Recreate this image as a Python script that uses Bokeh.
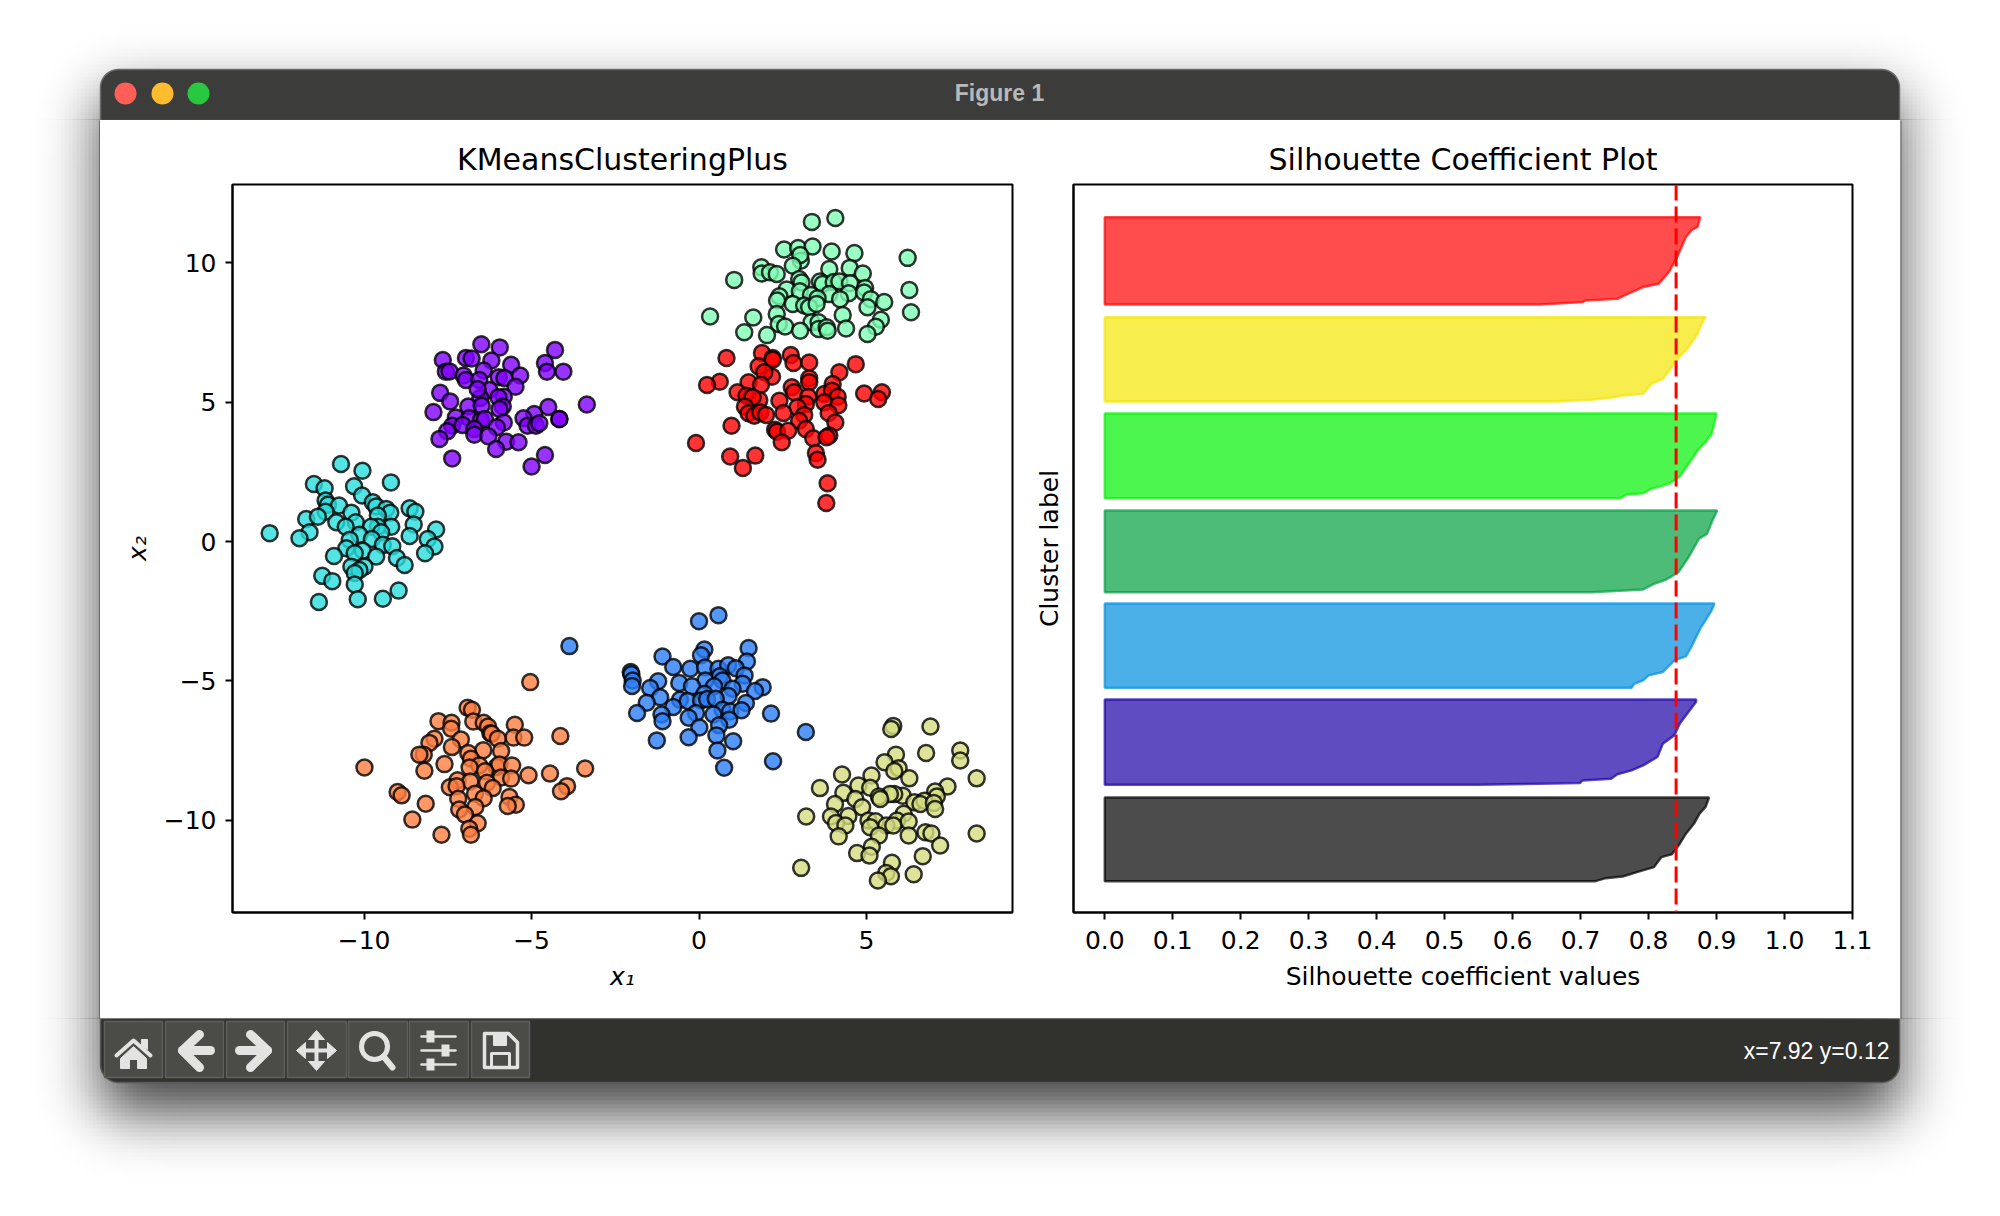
import math
import numpy as np
from bokeh.core.properties import value
from bokeh.embed import file_html
from bokeh.layouts import column, row
from bokeh.models import FixedTicker, PrintfTickFormatter, Range1d, Span
from bokeh.plotting import figure
from bokeh.resources import INLINE

# ---------- scatter data ----------
purple_x = [-6.50,-5.95,-4.30,-7.65,-6.96,-6.79,-6.20,-4.60,-4.54,-4.05,-5.61,-7.56,-7.45,-7.03,-6.96,-6.43,-6.56,-5.98,-5.81,-5.34,-5.48,-7.73,-7.43,-6.26,-6.53,-5.83,-5.99,-6.61,-5.86,-5.96,-7.93,-6.89,-6.49,-4.50,-3.35,-7.26,-6.86,-6.51,-6.39,-4.92,-5.24,-4.17,-4.17,-5.12,-4.87,-4.77,-7.37,-7.52,-7.06,-6.71,-5.83,-6.04,-6.71,-6.29,-7.75,-5.76,-5.39,-6.06,-7.37,-4.60,-5.00]
purple_y = [7.07,6.96,6.87,6.51,6.58,6.56,6.49,6.40,6.09,6.09,6.34,6.09,6.10,5.95,5.79,6.13,5.79,5.89,5.86,5.95,5.55,5.33,5.02,5.43,5.15,5.19,5.17,5.47,4.84,4.75,4.64,4.84,4.87,4.82,4.91,4.45,4.42,4.36,4.39,4.57,4.42,4.39,4.39,4.15,4.15,4.24,4.15,3.95,4.18,4.03,4.27,4.10,3.83,3.77,3.68,3.58,3.56,3.32,2.98,3.10,2.69]
blue_x = [-3.87,0.00,0.58,0.16,0.06,-1.09,1.48,1.43,-0.77,-0.26,0.18,0.58,0.87,1.10,-2.04,-2.02,-1.98,-2.00,1.36,0.62,-1.22,-0.59,0.19,0.70,1.30,-1.46,-0.21,0.45,1.90,1.67,1.00,-1.16,0.88,0.16,-1.56,-0.57,-0.34,0.06,0.24,0.50,-0.77,1.40,0.70,0.93,1.27,0.43,-0.09,-1.85,-1.12,-0.31,2.15,-1.09,0.90,0.60,0.01,0.52,-0.31,-1.26,1.02,3.19,0.55,2.21,0.75]
blue_y = [-3.75,-2.86,-2.64,-3.87,-4.08,-4.12,-3.82,-4.30,-4.50,-4.56,-4.52,-4.56,-4.44,-4.54,-4.68,-4.76,-4.98,-5.18,-4.80,-4.83,-5.01,-5.07,-4.98,-4.98,-5.10,-5.25,-5.19,-5.19,-5.22,-5.36,-5.28,-5.58,-5.54,-5.46,-5.78,-5.67,-5.72,-5.70,-5.65,-5.64,-5.93,-5.79,-6.03,-6.09,-6.05,-6.20,-6.15,-6.15,-6.20,-6.32,-6.17,-6.44,-6.39,-6.59,-6.67,-6.95,-7.02,-7.13,-7.16,-6.83,-7.49,-7.88,-8.11]
cyan_x = [-10.69,-10.05,-9.20,-11.50,-11.18,-10.30,-10.06,-11.15,-9.74,-11.08,-10.75,-9.64,-9.34,-8.64,-8.47,-11.15,-10.38,-9.22,-11.73,-11.38,-9.59,-10.83,-10.25,-8.52,-9.19,-9.59,-9.79,-10.55,-7.85,-12.82,-11.63,-10.14,-9.49,-8.64,-11.93,-8.10,-10.43,-9.77,-7.90,-9.44,-9.16,-10.53,-10.04,-10.28,-8.18,-10.90,-9.64,-9.02,-8.79,-10.38,-9.99,-10.14,-10.28,-11.25,-10.95,-10.28,-8.97,-9.44,-10.19,-11.35]
cyan_y = [2.78,2.54,2.12,2.06,1.91,1.98,1.65,1.47,1.41,1.32,1.29,1.26,1.17,1.19,1.07,1.07,1.03,1.03,0.81,0.89,0.93,0.69,0.69,0.61,0.53,0.53,0.53,0.53,0.43,0.30,0.33,0.24,0.33,0.20,0.12,0.09,0.06,0.09,-0.18,-0.12,-0.17,-0.24,-0.33,-0.42,-0.42,-0.52,-0.54,-0.59,-0.84,-0.90,-0.90,-1.02,-1.13,-1.23,-1.42,-1.54,-1.76,-2.05,-2.07,-2.17]
mint_x = [3.37,4.07,2.54,2.96,3.39,3.96,4.64,6.23,3.04,3.02,2.80,1.86,1.87,2.12,2.32,1.05,3.89,4.50,4.89,2.99,3.06,3.61,3.69,4.02,4.19,4.51,4.96,6.28,2.62,3.01,3.89,4.47,4.93,5.13,2.40,2.33,3.34,3.54,4.21,5.53,2.80,3.14,3.29,3.51,5.03,6.33,4.29,2.32,0.33,1.62,2.38,2.57,5.43,3.36,3.57,3.57,3.81,3.84,3.02,4.39,5.28,5.03,1.35,2.03]
mint_y = [11.46,11.60,10.47,10.52,10.58,10.40,10.34,10.17,10.07,10.27,9.89,9.83,9.61,9.65,9.59,9.38,9.77,9.81,9.61,9.41,9.29,9.32,9.23,9.30,9.32,9.26,9.09,9.02,9.04,8.97,8.87,8.90,8.93,8.69,8.79,8.64,8.84,8.72,8.69,8.59,8.52,8.46,8.40,8.52,8.40,8.22,8.12,8.16,8.07,8.03,7.80,7.71,7.95,7.86,7.86,7.62,7.68,7.56,7.56,7.64,7.70,7.44,7.50,7.40]
olive_x = [5.80,5.74,6.91,6.78,7.80,7.80,5.88,5.54,5.96,5.83,8.29,6.28,4.27,5.15,7.42,3.61,4.76,5.11,4.31,7.05,7.10,6.08,5.83,5.70,5.37,5.41,4.67,6.43,6.73,6.61,7.01,7.05,4.06,4.87,3.20,3.94,4.46,6.11,5.06,5.27,5.91,6.26,4.09,4.37,5.59,5.80,5.11,8.29,6.76,6.94,4.17,5.37,6.26,7.20,5.16,4.72,5.09,6.68,5.76,3.05,5.59,6.41,5.73,5.34]
olive_y = [-6.61,-6.72,-6.63,-7.58,-7.49,-7.85,-7.64,-7.91,-8.13,-8.23,-8.49,-8.49,-8.35,-8.39,-8.78,-8.84,-8.75,-8.83,-9.01,-8.96,-9.14,-9.11,-9.05,-9.05,-9.14,-9.23,-9.23,-9.35,-9.29,-9.41,-9.37,-9.59,-9.41,-9.53,-9.86,-9.86,-9.84,-9.76,-10.00,-10.03,-10.00,-10.04,-10.09,-10.18,-10.18,-10.18,-10.24,-10.47,-10.42,-10.47,-10.57,-10.54,-10.54,-10.90,-10.94,-11.17,-11.26,-11.28,-11.52,-11.70,-11.88,-11.93,-12.00,-12.15]
orange_x = [-5.04,-6.91,-6.78,-6.74,-7.78,-7.39,-7.40,-6.43,-6.30,-6.23,-6.19,-5.50,-4.14,-5.54,-5.22,-6.01,-7.90,-8.05,-7.11,-7.38,-6.44,-5.91,-6.89,-8.22,-8.35,-7.60,-9.99,-8.20,-6.81,-6.56,-6.85,-6.04,-5.96,-5.58,-6.39,-5.09,-4.45,-3.40,-5.91,-5.61,-7.21,-6.83,-6.33,-7.44,-7.24,-6.16,-3.94,-4.12,-9.00,-8.88,-6.69,-6.43,-7.19,-5.66,-8.16,-5.47,-5.71,-6.68,-7.16,-6.99,-8.56,-6.61,-6.86,-6.81,-7.69]
orange_y = [-5.04,-5.96,-6.03,-6.45,-6.44,-6.50,-6.71,-6.50,-6.63,-6.87,-6.89,-6.57,-6.97,-7.03,-7.03,-7.07,-7.07,-7.22,-7.10,-7.37,-7.48,-7.51,-7.58,-7.64,-7.64,-7.98,-8.10,-8.22,-7.79,-8.03,-8.10,-8.08,-7.99,-8.03,-8.24,-8.38,-8.32,-8.14,-8.46,-8.50,-8.56,-8.60,-8.65,-8.81,-8.77,-8.84,-8.77,-8.95,-8.98,-9.10,-9.04,-9.20,-9.22,-9.16,-9.40,-9.44,-9.48,-9.52,-9.61,-9.79,-9.97,-10.10,-10.30,-10.51,-10.51]
red_x = [0.82,1.88,2.20,2.20,1.78,2.74,2.82,3.29,4.68,4.19,2.18,1.95,0.62,0.24,1.48,1.85,3.29,3.29,3.99,1.15,2.77,2.84,3.74,3.97,4.93,5.46,5.35,4.14,1.42,1.80,1.60,2.40,3.26,3.19,3.74,4.16,1.37,2.94,1.48,1.65,1.83,2.00,2.52,3.14,3.87,2.99,0.97,4.07,2.27,2.33,2.66,3.19,2.47,3.41,3.89,3.81,-0.09,0.93,1.68,3.49,3.54,1.31,3.84,3.80]
red_y = [6.58,6.76,6.58,6.52,6.28,6.69,6.40,6.42,6.36,6.07,5.91,6.07,5.73,5.61,5.71,5.62,5.85,5.71,5.65,5.35,5.53,5.35,5.29,5.41,5.31,5.35,5.11,5.19,5.23,5.07,5.17,5.05,5.19,4.93,4.99,4.89,4.83,4.81,4.60,4.51,4.63,4.54,4.61,4.54,4.61,4.33,4.15,4.27,4.01,3.94,3.97,4.03,3.56,3.70,3.80,3.74,3.53,3.05,3.08,3.17,2.93,2.64,2.09,1.38]

cluster_colors = ["#8000ff", "#2c7ef7", "#2adddd", "#80ffb4", "#d4dd80", "#ff7e41", "#ff0000"]
x_ticks = [-10, -5, 0, 5]
y_ticks = [-10, -5, 0, 5, 10]
MINUS = "\u2212"

# ---------- silhouette data ----------
black_s = [0.0, 0.722, 0.737, 0.762, 0.783, 0.808, 0.819, 0.834, 0.846, 0.855, 0.867, 0.875, 0.884, 0.889]
black_f = [0.0, 0.0, 0.036, 0.056, 0.108, 0.168, 0.288, 0.32, 0.448, 0.568, 0.688, 0.808, 0.888, 1.0]
violet_s = [0.0, 0.547, 0.699, 0.703, 0.745, 0.754, 0.775, 0.792, 0.813, 0.821, 0.838, 0.846, 0.859, 0.87, 0.87]
violet_f = [0.0, 0.0, 0.02, 0.051, 0.071, 0.122, 0.169, 0.227, 0.325, 0.482, 0.58, 0.718, 0.855, 0.973, 1.0]
sky_s = [0.0, 0.775, 0.779, 0.792, 0.80, 0.821, 0.838, 0.855, 0.863, 0.876, 0.884, 0.893, 0.897]
sky_f = [0.0, 0.0, 0.048, 0.087, 0.147, 0.187, 0.325, 0.373, 0.484, 0.702, 0.802, 0.921, 1.0]
sea_s = [0.0, 0.716, 0.792, 0.808, 0.825, 0.844, 0.859, 0.874, 0.886, 0.894, 0.901]
sea_f = [0.0, 0.0, 0.033, 0.102, 0.151, 0.245, 0.429, 0.653, 0.714, 0.878, 1.0]
lime_s = [0.0, 0.758, 0.768, 0.792, 0.804, 0.83, 0.846, 0.859, 0.874, 0.884, 0.893, 0.90]
lime_f = [0.0, 0.0, 0.043, 0.059, 0.111, 0.17, 0.257, 0.407, 0.585, 0.664, 0.763, 1.0]
yellow_s = [0.0, 0.665, 0.716, 0.749, 0.762, 0.792, 0.804, 0.821, 0.834, 0.842, 0.859, 0.872, 0.878, 0.884]
yellow_f = [0.0, 0.0, 0.02, 0.051, 0.071, 0.091, 0.209, 0.269, 0.407, 0.506, 0.644, 0.802, 0.921, 1.0]
rose_s = [0.0, 0.64, 0.703, 0.707, 0.754, 0.77, 0.792, 0.815, 0.83, 0.842, 0.855, 0.863, 0.872, 0.876]
rose_f = [0.0, 0.0, 0.027, 0.046, 0.065, 0.123, 0.2, 0.238, 0.372, 0.544, 0.774, 0.851, 0.889, 1.0]
band_lower = [31.3, 127.7, 224.7, 320.3, 414.3, 511.0, 608.0]
band_upper = [115.0, 213.0, 309.0, 402.0, 499.0, 595.3, 695.3]
band_colors = ["#000000", "#1900a5", "#008ede", "#00a03e", "#00f203", "#f4e500", "#ff0000"]
sil_ticks = [0.0, 0.1, 0.2, 0.3, 0.4, 0.5, 0.6, 0.7, 0.8, 0.9, 1.0, 1.1]
avg_silhouette = 0.8405

FONT = "DejaVu Sans"
TITLE_PX = "30px"
TICK_PX = "25px"

# ---------- window chrome helpers ----------
def Y(py):
    return 1216 - py

def shadow_image():
    step = 4
    xs = np.arange(0, 2000, step) + step / 2
    ys = np.arange(0, 1216, step) + step / 2
    erf = np.vectorize(math.erf)
    sig = 28 * math.sqrt(2)
    sx = 0.5 * (erf((xs - 100) / sig) - erf((xs - 1899) / sig))
    sy = 0.5 * (erf((ys - 95) / sig) - erf((ys - 1112) / sig))
    alpha = 0.75 * np.outer(sy, sx)
    # image rows run from the bottom of the picture upward
    alpha = alpha[::-1]
    a = (alpha * 255).astype(np.uint32)
    return a << 24

SHADOW = shadow_image()

def chrome_fig(x0, x1, y0, y1, **kw):
    f = figure(width=x1 - x0, height=y1 - y0, x_range=Range1d(x0, x1), y_range=Range1d(Y(y1), Y(y0)),
               x_axis_type=None, y_axis_type=None, toolbar_location=None, output_backend="svg",
               min_border=0, min_border_left=0, min_border_right=0, min_border_top=0, min_border_bottom=0,
               outline_line_color=None, background_fill_color=None, border_fill_color=None,
               frame_align=False, **kw)
    f.grid.visible = False
    f.image_rgba(image=[SHADOW], x=0, y=0, dw=2000, dh=1216)
    return f

def rounded_band(x0, x1, y0, y1, r, top):
    t = np.linspace(0, math.pi / 2, 12)
    if top:
        px = [x0] + list(x0 + r - r * np.cos(t)) + list(x1 - r + r * np.sin(t)) + [x1]
        py = [y1] + list(y0 + r - r * np.sin(t)) + list(y0 + r - r * np.cos(t)) + [y1]
    else:
        px = [x0] + list(x0 + r - r * np.cos(t)) + list(x1 - r + r * np.sin(t)) + [x1]
        py = [y0] + list(y1 - r + r * np.sin(t)) + list(y1 - r + r * np.cos(t)) + [y0]
    return px, [Y(v) for v in py]

# ---------- top strip ----------
top = chrome_fig(8, 1992, 8, 120)
bx, by = rounded_band(100, 1899, 69, 120, 18, True)
top.patch(bx, by, fill_color="#3c3c3a", line_color="#6a6a68", line_width=1.5)
top.circle(x=[125, 162, 198], y=[Y(93)] * 3, radius=11,
           fill_color=["#ff5f57", "#febc2e", "#28c840"], line_color=None)
top.text(x=[999], y=[Y(92)], text=["Figure 1"], text_color="#b9b9b7", text_font=value("Liberation Sans"),
         text_font_style="bold", text_font_size="23px", text_align="center", text_baseline="middle")

# ---------- bottom strip ----------
bot = chrome_fig(8, 1992, 1018, 1208)
bx, by = rounded_band(100, 1899, 1018, 1082, 18, False)
bot.patch(bx, by, fill_color="#31312e", line_color="#5a5a58", line_width=1.5)
btn_left = [104, 165, 226, 287, 348, 409, 471]
btn_right = [162, 223, 284, 346, 407, 468, 529]
bot.quad(left=btn_left, right=btn_right, top=[Y(1021)] * 7, bottom=[Y(1077)] * 7,
         fill_color="#4b4b48", line_color="#5f5f5c", line_width=1.5)
ICON = "#e3e3e1"
cy = 1050
def ln(xs, ys, w=4):
    bot.line(xs, [Y(v) for v in ys], line_color=ICON, line_width=w, line_cap="round", line_join="round")
def pt(xs, ys):
    bot.patch(xs, [Y(v) for v in ys], fill_color=ICON, line_color=ICON, line_width=1)
# home
ln([116, 133, 150], [1055, 1040, 1055], 4)
pt([141, 147, 147, 141], [1039, 1039, 1049, 1045])
pt([120, 133, 146, 146, 137, 137, 129, 129, 120], [1058, 1046, 1058, 1068, 1068, 1059, 1059, 1068, 1068])
# back / forward
ln([182, 210], [cy, cy], 9)
ln([199, 182, 199], [1034, cy, 1067], 9)
ln([239, 267], [cy, cy], 9)
ln([250, 267, 250], [1034, cy, 1067], 9)
# move
cx = 316
ln([cx - 16, cx + 16], [cy, cy], 4)
ln([cx, cx], [cy - 16, cy + 16], 4)
pt([cx - 20, cx - 11, cx - 11], [cy, cy - 8, cy + 8])
pt([cx + 20, cx + 11, cx + 11], [cy, cy - 8, cy + 8])
pt([cx, cx - 8, cx + 8], [cy - 20, cy - 11, cy - 11])
pt([cx, cx - 8, cx + 8], [cy + 20, cy + 11, cy + 11])
# zoom
bot.circle(x=[374], y=[Y(1046)], radius=13, fill_color=None, line_color=ICON, line_width=5)
ln([383, 392], [1056, 1067], 6)
# sliders
for yy, off in zip([1036, 1050, 1064], [-8, 7, -8]):
    ln([421, 455], [yy, yy], 2.5)
    bot.quad(left=[438 + off - 4], right=[438 + off + 4], top=[Y(yy - 6)], bottom=[Y(yy + 6)], fill_color=ICON, line_color=None)
# save
ln([484, 508, 517, 517, 484, 484], [1033, 1033, 1042, 1067, 1067, 1033], 3.5)
ln([491, 509, 509, 491, 491], [1053, 1053, 1067, 1067, 1053], 3)
pt([493, 506, 506, 493], [1033, 1033, 1045, 1045])
bot.text(x=[1889], y=[Y(1050)], text=["x=7.92 y=0.12"], text_color="white", text_font=value("Liberation Sans"),
         text_font_size="23px", text_align="right", text_baseline="middle")

# ---------- side strips ----------
lsp = chrome_fig(8, 100, 119, 1019, margin=(-1, 0, -1, 0))
rsp = chrome_fig(1900, 1992, 119, 1019, margin=(-1, 0, -1, 0))
lsp.segment(x0=[99.5], y0=[Y(120)], x1=[99.5], y1=[Y(1018)], line_color="#555555", line_width=1.5)
rsp.segment(x0=[1900.2], y0=[Y(120)], x1=[1900.2], y1=[Y(1018)], line_color="#555555", line_width=1.5)

# ---------- axes styling ----------
def style(f):
    f.grid.visible = False
    f.outline_line_color = "black"
    f.outline_line_width = 2
    f.outline_line_alpha = 1
    f.title.text_font = FONT
    f.title.text_font_size = TITLE_PX
    f.title.text_font_style = "normal"
    f.title.text_color = "black"
    f.title.align = "center"
    f.title.offset = 0
    f.title.standoff = 15
    for ax in (f.xaxis[0], f.yaxis[0]):
        ax.axis_line_color = "black"
        ax.axis_line_width = 2
        ax.major_tick_line_color = "black"
        ax.major_tick_line_width = 2
        ax.major_tick_out = 7
        ax.major_tick_in = 0
        ax.minor_tick_line_color = None
        ax.major_label_text_font = FONT
        ax.major_label_text_font_size = TICK_PX
        ax.major_label_text_color = "black"
        ax.axis_label_text_font = FONT
        ax.axis_label_text_font_size = TICK_PX
        ax.axis_label_text_font_style = "normal"
        ax.axis_label_text_color = "black"
    f.xaxis[0].major_label_standoff = 11
    f.yaxis[0].major_label_standoff = 9
    f.xaxis[0].axis_label_standoff = 10

# ---------- left: scatter ----------
left = figure(width=920, height=898, title="KMeansClusteringPlus", toolbar_location=None, output_backend="svg",
              x_range=Range1d(-13.93, 9.36), y_range=Range1d(-13.3, 12.8),
              min_border_left=132, min_border_right=8, min_border_top=64, min_border_bottom=106,
              x_axis_label="x\u2081", y_axis_label="x\u2082", border_fill_color="white", frame_align=False)
style(left)
left.xaxis[0].ticker = FixedTicker(ticks=x_ticks)
left.yaxis[0].ticker = FixedTicker(ticks=y_ticks)
left.xaxis[0].major_label_overrides = {v: str(v).replace("-", MINUS) for v in x_ticks}
left.yaxis[0].major_label_overrides = {v: str(v).replace("-", MINUS) for v in y_ticks}
left.yaxis[0].major_label_orientation = "horizontal"
left.yaxis[0].axis_label_standoff = 9
left.xaxis[0].axis_label_text_font_style = "italic"
left.yaxis[0].axis_label_text_font_style = "italic"
series = [(purple_x, purple_y), (blue_x, blue_y), (cyan_x, cyan_y), (mint_x, mint_y),
          (olive_x, olive_y), (orange_x, orange_y), (red_x, red_y)]
for (sx_, sy_), c in zip(series, cluster_colors):
    left.scatter(sx_, sy_, size=16, marker="circle", fill_color=c, fill_alpha=0.8,
                 line_color="black", line_alpha=0.8, line_width=2.5)

# ---------- right: silhouette ----------
right = figure(width=880, height=898, title="Silhouette Coefficient Plot", toolbar_location=None, output_backend="svg",
               x_range=Range1d(-0.046, 1.1), y_range=Range1d(0, 728),
               min_border_left=53, min_border_right=48, min_border_top=64, min_border_bottom=106,
               x_axis_label="Silhouette coefficient values", y_axis_label="Cluster label", border_fill_color="white",
               frame_align=False)
style(right)
right.xaxis[0].ticker = FixedTicker(ticks=sil_ticks)
right.xaxis[0].formatter = PrintfTickFormatter(format="%.1f")
right.yaxis[0].ticker = FixedTicker(ticks=[])
right.yaxis[0].axis_label_standoff = 10
bands = [(black_s, black_f), (violet_s, violet_f), (sky_s, sky_f), (sea_s, sea_f),
         (lime_s, lime_f), (yellow_s, yellow_f), (rose_s, rose_f)]
for (s, fr), lo, up, c in zip(bands, band_lower, band_upper, band_colors):
    ys = [lo + v * (up - lo) for v in fr] + [up]
    xs = list(s) + [0.0]
    right.patch(xs, ys, fill_color=c, fill_alpha=0.7, line_color=c, line_alpha=0.7, line_width=2.4)
right.add_layout(Span(location=avg_silhouette, dimension="height", line_color="red",
                      line_dash="16 6", line_width=3))

page = column(top, row(lsp, left, right, rsp), bot, spacing=0, margin=(8, 0, 0, 8))
open("out.html", "w").write(file_html(page, INLINE))
